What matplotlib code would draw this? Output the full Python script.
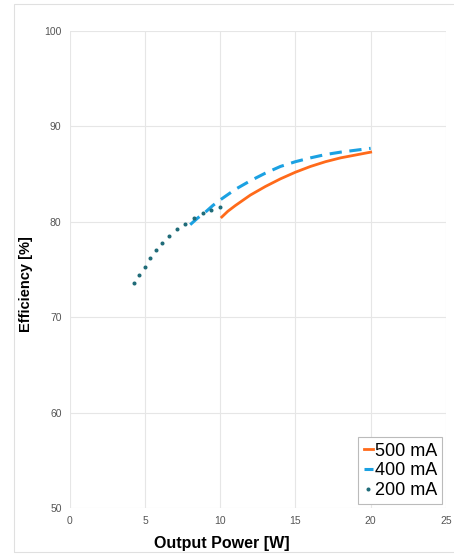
import matplotlib
matplotlib.use("Agg")
import matplotlib.pyplot as plt
from matplotlib.patches import Rectangle

plt.rcParams["font.family"] = ["Liberation Sans", "DejaVu Sans"]

p500 = [10.1, 10.5, 11.0, 12.0, 13.0, 14.0, 15.0, 16.0, 17.0, 18.0, 19.0, 20.0]
e500 = [80.5, 81.1, 81.7, 82.8, 83.7, 84.5, 85.2, 85.8, 86.3, 86.7, 87.0, 87.3]

p400 = [8.0, 8.5, 9.0, 9.5, 10.0, 11.0, 12.0, 13.0, 14.0, 15.0, 16.0, 17.0, 18.0, 19.0, 20.0]
e400 = [79.7, 80.4, 81.0, 81.7, 82.3, 83.4, 84.3, 85.1, 85.8, 86.3, 86.7, 87.05, 87.3, 87.5, 87.7]

p200 = [4.25, 4.6, 5.0, 5.35, 5.7, 6.1, 6.6, 7.1, 7.65, 8.25, 8.85, 9.4, 10.0]
e200 = [73.55, 74.4, 75.3, 76.2, 77.0, 77.8, 78.5, 79.2, 79.8, 80.4, 80.95, 81.25, 81.5]

labels = ["500 mA", "400 mA", "200 mA"]

fig = plt.figure(figsize=(4.54, 5.56), dpi=100)
ax = fig.add_axes([0.154, 0.0863, 0.828, 0.858])

ax.plot(p500, e500, color="#ff6a1a", lw=2.0, label=labels[0])
ax.plot(p400, e400, color="#1ba1e2", lw=2.2, ls=(0, (4, 2.5)), label=labels[1])
ax.plot(p200, e200, color="#1f6b78", lw=0, marker="o", ms=1.9, label=labels[2])

ax.set_xlim(0, 25)
ax.set_ylim(50, 100)
ax.set_xticks([0, 5, 10, 15, 20, 25])
ax.set_yticks([50, 60, 70, 80, 90, 100])
ax.grid(True, color="#e6e6e6", lw=0.8)
ax.set_axisbelow(True)
for s in ax.spines.values():
    s.set_visible(False)
ax.tick_params(length=0, labelsize=7.5, colors="#555555", pad=6)

ax.set_xlabel("Output Power [W]", fontsize=11.5, fontweight="bold")
ax.xaxis.set_label_coords(0.404, -0.058)
ax.set_ylabel("Efficiency [%]", fontsize=10.5, fontweight="bold")
ax.yaxis.set_label_coords(-0.098, 0.47)

leg = ax.legend(loc="lower right", fontsize=13, handlelength=0.5, handletextpad=0.1,
                borderpad=0.3, labelspacing=0.15, fancybox=False, framealpha=1,
                edgecolor="#bbbbbb", borderaxespad=0.2)
leg.get_frame().set_linewidth(0.8)

fig.patches.append(Rectangle((14 / 454, 4 / 556), 1.0, 548 / 556, transform=fig.transFigure,
                             fill=False, ec="#e0e0e0", lw=0.8))

fig.savefig("out.png", dpi=100)
